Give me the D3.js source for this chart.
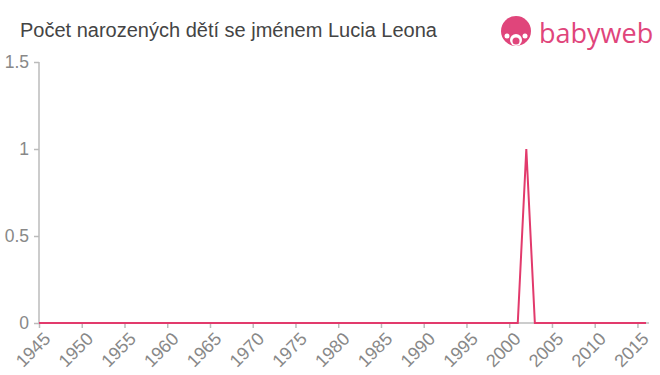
<!DOCTYPE html>
<html lang="cs">
<head>
<meta charset="UTF-8">
<title>Počet narozených dětí se jménem Lucia Leona</title>
<script src="https://d3js.org/d3.v7.min.js"></script>
<style>
  body { margin: 0; background: #fff; }
  svg { display: block; font-family: "Liberation Sans", Arial, sans-serif; }
  .axis path, .axis line { stroke: #bbb; stroke-width: 1.5px; }
  .axis text { fill: #888; font-size: 17.5px; }
  .x-axis text { font-size: 18px; }
  .line { fill: none; stroke: #e23a6c; stroke-width: 2px; }
</style>
</head>
<body>
<svg id="chart" width="660" height="375"></svg>
<script>
    // data
    const years = d3.range(1945, 2017);
    const counts = years.map(y => y === 2002 ? 1 : 0);
    const yTicks = [0, 0.5, 1, 1.5];
    const xTicks = d3.range(1945, 2016, 5);

    const svg = d3.select("#chart");
    const margin = {top: 62, right: 14, bottom: 52, left: 39};

    const x = d3.scaleLinear().domain([1945, 2016]).range([margin.left, 646]);
    const y = d3.scaleLinear().domain([0, 1.5]).range([323, margin.top]);

    // title
    svg.append("text")
        .attr("x", 20).attr("y", 37)
        .attr("fill", "#444")
        .style("font-size", "20px")
        .text("Počet narozených dětí se jménem Lucia Leona");

    // logo
    const logo = svg.append("g").attr("fill", "#e0457b");
    logo.append("circle").attr("cx", 516).attr("cy", 31).attr("r", 15);
    logo.append("circle").attr("cx", 516).attr("cy", 40).attr("r", 6).attr("fill", "#fff");
    logo.append("circle").attr("cx", 516).attr("cy", 41).attr("r", 3.5);
    logo.append("circle").attr("cx", 507).attr("cy", 36).attr("r", 2.5).attr("fill", "#fff");
    logo.append("circle").attr("cx", 525).attr("cy", 36).attr("r", 2.5).attr("fill", "#fff");
    logo.append("text")
        .attr("x", 539).attr("y", 43)
        .style("font-size", "27px")
        .style("font-family", "'Open Sans', sans-serif")
        .text("babyweb");

    // axes
    svg.append("g")
        .attr("class", "axis x-axis")
        .attr("transform", `translate(0,${y(0)})`)
        .call(d3.axisBottom(x).tickValues(xTicks).tickFormat(d3.format("d")).tickSize(5).tickSizeOuter(0))
        .call(g => g.select(".domain").attr("d", `M${margin.left},0H649`))
        .selectAll("text")
        .attr("x", 0).attr("y", 0).attr("dy", 0)
        .attr("text-anchor", "end")
        .attr("transform", "translate(12,17) rotate(-45)");

    svg.append("g")
        .attr("class", "axis")
        .attr("transform", `translate(${margin.left},0)`)
        .call(d3.axisLeft(y).tickValues(yTicks).tickFormat(d => d).tickSize(5).tickSizeOuter(0))
        .call(g => g.select(".domain").attr("d", `M0,${margin.top}V${y(0)}`))
        .selectAll("text")
        .attr("x", -10);

    // line
    const line = d3.line()
        .x((d, i) => x(years[i]))
        .y(d => y(d));

    svg.append("path")
        .datum(counts)
        .attr("class", "line")
        .attr("d", line);
</script>
</body>
</html>
